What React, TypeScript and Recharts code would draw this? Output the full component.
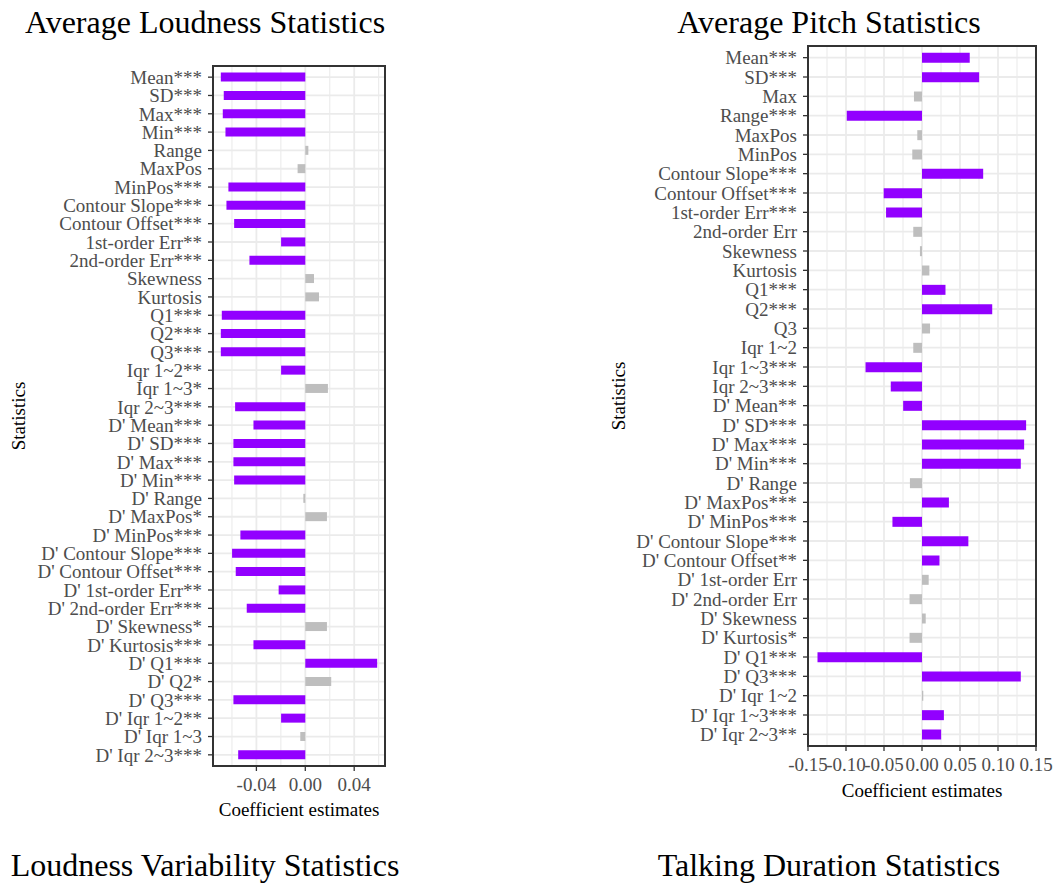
import React from "react";
import {
  BarChart,
  Bar,
  XAxis,
  YAxis,
  CartesianGrid,
  Cell,
} from "recharts";

const PURPLE = "#9200FF";
const GRAY = "#BEBEBE";
const FONT = "'Liberation Serif', 'Times New Roman', serif";

const loudnessLabels = [
  "Mean***", "SD***", "Max***", "Min***", "Range", "MaxPos", "MinPos***",
  "Contour Slope***", "Contour Offset***", "1st-order Err**", "2nd-order Err***",
  "Skewness", "Kurtosis", "Q1***", "Q2***", "Q3***", "Iqr 1~2**", "Iqr 1~3*",
  "Iqr 2~3***", "D' Mean***", "D' SD***", "D' Max***", "D' Min***", "D' Range",
  "D' MaxPos*", "D' MinPos***", "D' Contour Slope***", "D' Contour Offset***",
  "D' 1st-order Err**", "D' 2nd-order Err***", "D' Skewness*", "D' Kurtosis***",
  "D' Q1***", "D' Q2*", "D' Q3***", "D' Iqr 1~2**", "D' Iqr 1~3", "D' Iqr 2~3***",
];
const loudnessValues = [
  -0.0691, -0.0667, -0.0675, -0.0653, 0.0025, -0.0063, -0.0629,
  -0.0645, -0.0582, -0.0198, -0.0457,
  0.0071, 0.0112, -0.0683, -0.0691, -0.0691, -0.0198, 0.0185,
  -0.0574, -0.0424, -0.0588, -0.0588, -0.0582, -0.0016,
  0.0177, -0.0531, -0.0599, -0.0569,
  -0.0218, -0.0479, 0.0177, -0.0424,
  0.0588, 0.0212, -0.0588, -0.0198, -0.0041, -0.0549,
];
const loudnessHighlighted = [
  1, 1, 1, 1, 0, 0, 1,
  1, 1, 1, 1,
  0, 0, 1, 1, 1, 1, 0,
  1, 1, 1, 1, 1, 0,
  0, 1, 1, 1,
  1, 1, 0, 1,
  1, 0, 1, 1, 0, 1,
];
const loudnessDomain = [-0.0755, 0.0652];
const loudnessTicks = [-0.04, 0, 0.04];
const loudnessMinorTicks = [-0.06, -0.02, 0.02, 0.06];

const pitchLabels = [
  "Mean***", "SD***", "Max", "Range***", "MaxPos", "MinPos", "Contour Slope***",
  "Contour Offset***", "1st-order Err***", "2nd-order Err", "Skewness", "Kurtosis",
  "Q1***", "Q2***", "Q3", "Iqr 1~2", "Iqr 1~3***", "Iqr 2~3***", "D' Mean**",
  "D' SD***", "D' Max***", "D' Min***", "D' Range", "D' MaxPos***", "D' MinPos***",
  "D' Contour Slope***", "D' Contour Offset**", "D' 1st-order Err", "D' 2nd-order Err",
  "D' Skewness", "D' Kurtosis*", "D' Q1***", "D' Q3***", "D' Iqr 1~2", "D' Iqr 1~3***",
  "D' Iqr 2~3**",
];
const pitchValues = [
  0.0628, 0.0752, -0.0106, -0.099, -0.0062, -0.0128, 0.0805,
  -0.0504, -0.0473, -0.0115, -0.0027, 0.0097,
  0.0309, 0.0924, 0.0106, -0.0115, -0.0743, -0.0411, -0.0248,
  0.137, 0.1344, 0.13, -0.0159, 0.0354, -0.0389,
  0.061, 0.023, 0.0088, -0.0164,
  0.0049, -0.0164, -0.1375, 0.13, 0.0017, 0.0288,
  0.0252,
];
const pitchHighlighted = [
  1, 1, 0, 1, 0, 0, 1,
  1, 1, 0, 0, 0,
  1, 1, 0, 0, 1, 1, 1,
  1, 1, 1, 0, 1, 1,
  1, 1, 0, 0,
  0, 0, 1, 1, 0, 1,
  1,
];
const pitchDomain = [-0.15, 0.15];
const pitchTicks = [-0.15, -0.1, -0.05, 0, 0.05, 0.1, 0.15];
const pitchMinorTicks = [-0.125, -0.075, -0.025, 0.025, 0.075, 0.125];

type Row = { name: string; value: number; hi: number };
const build = (labels: string[], values: number[], hi: number[]): Row[] =>
  labels.map((name, i) => ({ name, value: values[i], hi: hi[i] }));

const loudnessData = build(loudnessLabels, loudnessValues, loudnessHighlighted);
const pitchData = build(pitchLabels, pitchValues, pitchHighlighted);

const tickStyle = { fill: "#4D4D4D", fontSize: 19, fontFamily: FONT };

function Panel(props: {
  data: Row[];
  domain: number[];
  ticks: number[];
  minor: number[];
  width: number;
  height: number;
  margin: { top: number; right: number; bottom: number; left: number };
  yWidth: number;
}) {
  const { data, domain, ticks, minor, width, height, margin, yWidth } = props;
  const minorGen = (args: any) => {
    const s = args && args.xAxis && args.xAxis.scale;
    if (typeof s === "function") return minor.map((m) => s(m));
    const o = args.offset;
    return minor.map(
      (m) => o.left + ((m - domain[0]) / (domain[1] - domain[0])) * o.width
    );
  };
  return (
    <BarChart
      width={width}
      height={height}
      data={data}
      layout="vertical"
      margin={margin}
      barCategoryGap="25%"
      style={{ overflow: "visible" }}
    >
      <CartesianGrid
        stroke="#EBEBEB"
        strokeWidth={1.1}
        horizontal={false}
        verticalCoordinatesGenerator={minorGen}
      />
      <CartesianGrid stroke="#EBEBEB" strokeWidth={1.8} />
      <XAxis
        type="number"
        domain={domain}
        ticks={ticks}
        allowDataOverflow
        tickFormatter={(v: number) => v.toFixed(2)}
        tick={tickStyle}
        tickSize={5}
        tickMargin={7}
        tickLine={{ stroke: "#333333", strokeWidth: 1.3 }}
        axisLine={false}
        height={30}
        interval={0}
      />
      <YAxis
        type="category"
        dataKey="name"
        width={yWidth}
        tick={tickStyle}
        tickSize={5}
        tickMargin={6}
        tickLine={{ stroke: "#333333", strokeWidth: 1.3 }}
        axisLine={false}
        interval={0}
        padding={{ top: 2, bottom: 2 }}
      />
      <Bar dataKey="value" isAnimationActive={false}>
        {data.map((d, i) => (
          <Cell key={i} fill={d.hi ? PURPLE : GRAY} />
        ))}
      </Bar>
    </BarChart>
  );
}

const textBase: React.CSSProperties = {
  position: "absolute",
  fontFamily: FONT,
  whiteSpace: "nowrap",
  transform: "translate(-50%, -50%)",
  lineHeight: 1,
};

const frame: React.CSSProperties = {
  position: "absolute",
  boxSizing: "border-box",
  border: "2px solid #333333",
  pointerEvents: "none",
};

export default function App() {
  return (
    <div
      style={{
        position: "absolute",
        left: 0,
        top: 0,
        width: 1054,
        height: 884,
        background: "#ffffff",
        overflow: "hidden",
      }}
    >
      <div style={{ position: "absolute", left: 0, top: 0 }}>
        <Panel
          data={loudnessData}
          domain={loudnessDomain}
          ticks={loudnessTicks}
          minor={loudnessMinorTicks}
          width={395}
          height={830}
          margin={{ top: 66, right: 10, bottom: 34, left: 0 }}
          yWidth={213}
        />
      </div>
      <div style={{ ...frame, left: 212, top: 65, width: 174, height: 702 }} />

      <div style={{ position: "absolute", left: 600, top: 0 }}>
        <Panel
          data={pitchData}
          domain={pitchDomain}
          ticks={pitchTicks}
          minor={pitchMinorTicks}
          width={454}
          height={810}
          margin={{ top: 46, right: 18, bottom: 34, left: 0 }}
          yWidth={208}
        />
      </div>
      <div style={{ ...frame, left: 807, top: 45, width: 230, height: 702 }} />

      <div style={{ ...textBase, left: 205, top: 22, fontSize: 32, color: "#000" }}>
        Average Loudness Statistics
      </div>
      <div style={{ ...textBase, left: 829, top: 22, fontSize: 32, color: "#000" }}>
        Average Pitch Statistics
      </div>
      <div style={{ ...textBase, left: 205, top: 865, fontSize: 32, color: "#000" }}>
        Loudness Variability Statistics
      </div>
      <div style={{ ...textBase, left: 829, top: 865, fontSize: 32, color: "#000" }}>
        Talking Duration Statistics
      </div>

      <div style={{ ...textBase, left: 299, top: 809, fontSize: 19, color: "#000" }}>
        Coefficient estimates
      </div>
      <div style={{ ...textBase, left: 922, top: 790, fontSize: 19, color: "#000" }}>
        Coefficient estimates
      </div>

      <div
        style={{
          ...textBase,
          left: 18,
          top: 416,
          fontSize: 19,
          color: "#000",
          transform: "translate(-50%, -50%) rotate(-90deg)",
        }}
      >
        Statistics
      </div>
      <div
        style={{
          ...textBase,
          left: 618,
          top: 396,
          fontSize: 19,
          color: "#000",
          transform: "translate(-50%, -50%) rotate(-90deg)",
        }}
      >
        Statistics
      </div>
    </div>
  );
}
